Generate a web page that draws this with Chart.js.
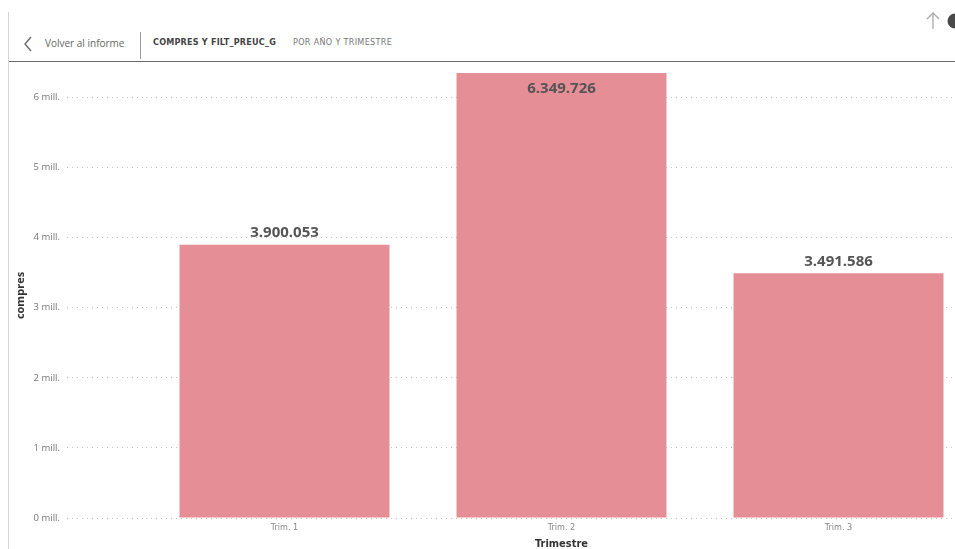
<!DOCTYPE html>
<html lang="es">
<head>
  <meta charset="UTF-8" />
  <title>compres por Trimestre</title>
  <script src="https://cdn.jsdelivr.net/npm/chart.js@4/dist/chart.umd.min.js"></script>
  <style>
    html, body { margin: 0; padding: 0; background: #fff; }
    body { width: 955px; height: 549px; overflow: hidden; position: relative; font-family: "Open Sans", sans-serif; }
    .frame-left { position: absolute; left: 8px; top: 12px; width: 1px; height: 540px; background: #d4d4d4; }
    .header-line { position: absolute; left: 9px; top: 61px; width: 946px; height: 1px; background: #6a6a6a; }
    .sep { position: absolute; left: 140px; top: 32px; width: 1px; height: 27px; background: #9a9a9a; }
    .back { position: absolute; left: 45px; top: 36px; font-size: 10px; color: #666; }
    .crumb1 { position: absolute; left: 153px; top: 37px; font-family: "DejaVu Sans Condensed", "Liberation Sans Narrow", sans-serif; font-size: 9px; font-weight: bold; color: #444; letter-spacing: 0.2px; }
    .crumb2 { position: absolute; left: 293px; top: 37px; font-family: "DejaVu Sans Condensed", "Liberation Sans Narrow", sans-serif; font-size: 9px; color: #777; letter-spacing: 0.3px; }
    #wrap { position: absolute; left: 0; top: 62px; }
    svg.icon { position: absolute; }
  </style>
</head>
<body>
  <div class="frame-left"></div>

  <!-- barra superior -->
  <svg class="icon" style="left:22px;top:36px" width="12" height="16">
    <polyline points="9,1 3,8 9,15" fill="none" stroke="#666" stroke-width="1.3" />
  </svg>
  <div class="back">Volver al informe</div>
  <div class="sep"></div>
  <div class="crumb1">COMPRES Y FILT_PREUC_G</div>
  <div class="crumb2">POR AÑO Y TRIMESTRE</div>
  <svg class="icon" style="left:925px;top:12px" width="16" height="18">
    <polyline points="2,7 8,1 14,7" fill="none" stroke="#aaa" stroke-width="1.3" />
    <line x1="8" y1="1" x2="8" y2="17" stroke="#aaa" stroke-width="1.3" />
  </svg>
  <svg class="icon" style="left:944px;top:13px" width="11" height="16">
    <circle cx="11" cy="8" r="7.5" fill="#4a4a4a" />
  </svg>
  <div class="header-line"></div>

  <div id="wrap">
    <canvas id="chart" width="980" height="487"></canvas>
  </div>

  <script>
    // datos
    const trimestres = ["Trim. 1", "Trim. 2", "Trim. 3"];
    const compres = [3900053, 6349726, 3491586];
    const yTicks = [0, 1000000, 2000000, 3000000, 4000000, 5000000, 6000000];

    const barColor = "#E68E96";

    // formato 3.900.053
    function fmtNum(v) {
      return String(Math.round(v)).replace(/\B(?=(\d{3})+(?!\d))/g, ".");
    }

    // etiquetas de datos encima (o dentro) de cada barra
    const dataLabels = {
      id: "dataLabels",
      afterDatasetsDraw(chart) {
        const ctx = chart.ctx;
        const meta = chart.getDatasetMeta(0);
        ctx.save();
        ctx.font = "bold 15px 'Open Sans', sans-serif";
        ctx.fillStyle = "#555";
        ctx.textAlign = "center";
        ctx.textBaseline = "middle";
        meta.data.forEach((bar, i) => {
          const top = bar.y;
          let y = top - 12;
          if (y - 9 < chart.chartArea.top) y = top + 16;
          ctx.fillText(fmtNum(compres[i]), bar.x, y);
        });
        ctx.restore();
      }
    };

    new Chart(document.getElementById("chart"), {
      type: "bar",
      data: {
        labels: trimestres,
        datasets: [{
          label: "compres",
          data: compres,
          backgroundColor: barColor,
          categoryPercentage: 1,
          barPercentage: 0.758
        }]
      },
      options: {
        responsive: false,
        animation: false,
        devicePixelRatio: 1,
        layout: { padding: { top: 11, right: 3, bottom: 0, left: 0 } },
        plugins: {
          legend: { display: false },
          tooltip: { enabled: false }
        },
        scales: {
          x: {
            grid: { display: false, drawTicks: false },
            border: { display: false },
            ticks: {
              color: "#888",
              padding: 4,
              font: { family: "'DejaVu Sans Condensed', 'Liberation Sans Narrow', sans-serif", size: 9 }
            },
            title: {
              display: true,
              text: "Trimestre",
              color: "#333",
              padding: { top: 0, bottom: -2 },
              font: { family: "'DejaVu Sans Condensed', 'Liberation Sans Narrow', sans-serif", size: 11, weight: "bold" }
            },
            afterFit(scale) { scale.height = 31; }
          },
          y: {
            min: 0,
            max: 6349726,
            afterBuildTicks(scale) {
              scale.ticks = yTicks.map(v => ({ value: v }));
            },
            grid: {
              color: "#c4c4c4",
              tickBorderDash: [1, 4],
              tickLength: 79,
              tickColor: "#c4c4c4"
            },
            border: { display: false, dash: [1, 4] },
            ticks: {
              color: "#777",
              padding: 7,
              font: { family: "'Open Sans', sans-serif", size: 9.5 },
              callback: v => (v / 1000000) + " mill."
            },
            title: {
              display: true,
              text: "compres",
              color: "#333",
              padding: { top: 14, bottom: 0 },
              font: { family: "'Open Sans', sans-serif", size: 11, weight: "bold" }
            },
            afterFit(scale) {
              scale.width = 146;
              // la etiqueta superior no llega al borde, sin relleno extra
              scale.paddingTop = 0;
              scale.paddingBottom = 0;
            }
          }
        }
      },
      plugins: [dataLabels]
    });
  </script>
</body>
</html>
